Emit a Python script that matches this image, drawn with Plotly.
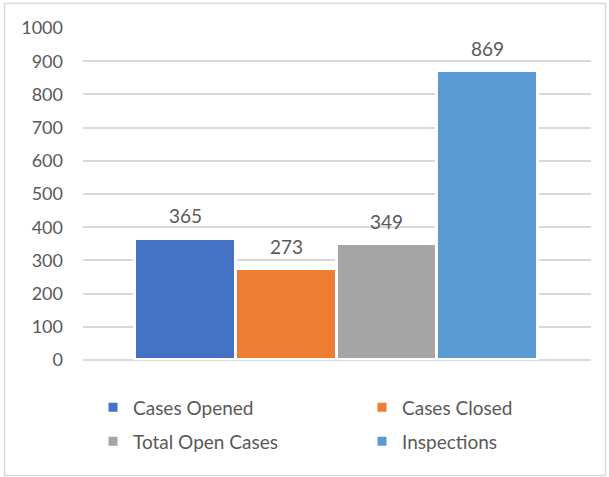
import plotly.graph_objects as go

series_names = ["Cases Opened", "Cases Closed", "Total Open Cases", "Inspections"]
series_values = [365, 273, 349, 869]
series_colors = ["#4472C4", "#ED7D31", "#A5A5A5", "#5B9BD5"]
y_ticks = [0, 100, 200, 300, 400, 500, 600, 700, 800, 900, 1000]

W, H = 609, 477
L, R, T, B = 83, 18, 28, 117
pw, ph = W - L - R, H - T - B

def px_x(p):
    return (p - L) / pw

def px_y(p):
    return (H - B - p) / ph

FONT = "Lato"
GREY_TEXT = "#595959"

# legend placement (pixel left of legend box, pixel centre of row)
legend_ids = ["legend", "legend2", "legend3", "legend4"]
legend_pos = [(93, 407.5), (362, 407.5), (93, 441.5), (362, 441.5)]

fig = go.Figure()
for name, val, col, lg in zip(series_names, series_values, series_colors, legend_ids):
    fig.add_trace(go.Bar(
        x=[name], y=[val], name=name,
        marker=dict(color=col, line=dict(color="white", width=3)),
        legend=lg, hoverinfo="skip",
    ))
    fig.add_annotation(
        x=name, y=val, text=str(val), showarrow=False,
        yanchor="middle", yshift=23,
        font=dict(family=FONT, size=19, color=GREY_TEXT),
    )

legend_layouts = {}
for lg, (lx, ly) in zip(legend_ids, legend_pos):
    legend_layouts[lg] = dict(
        orientation="h", x=px_x(lx), xanchor="left",
        y=px_y(ly), yanchor="middle",
        font=dict(family=FONT, size=19, color=GREY_TEXT),
        bgcolor="rgba(0,0,0,0)", itemclick=False, itemdoubleclick=False,
    )

fig.update_layout(
    width=W, height=H,
    margin=dict(l=L, r=R, t=T, b=B, pad=0, autoexpand=False),
    paper_bgcolor="white", plot_bgcolor="white",
    barmode="overlay", bargap=0,
    showlegend=True,
    font=dict(family=FONT, color=GREY_TEXT, size=18),
    xaxis=dict(
        range=[-1.01, 4.02], showticklabels=False, showgrid=False,
        zeroline=False, showline=False, ticks="",
        categoryorder="array", categoryarray=series_names,
    ),
    yaxis=dict(
        range=[0, 1000], tickvals=y_ticks, ticktext=[str(v) for v in y_ticks],
        showgrid=True, gridcolor="#D9D9D9", gridwidth=1.5,
        zeroline=True, zerolinecolor="#D9D9D9", zerolinewidth=1.5,
        showline=False, ticks="", ticklabelstandoff=19,
        tickfont=dict(family=FONT, size=18, color=GREY_TEXT),
    ),
    shapes=[dict(
        type="rect", xref="paper", yref="paper",
        x0=px_x(4.5), x1=px_x(605.5), y0=px_y(475.5), y1=px_y(3.5),
        line=dict(color="#D9D9D9", width=1.5), fillcolor="rgba(0,0,0,0)",
        layer="below",
    )],
    **legend_layouts,
)

fig.write_html(
    "out.html",
    config={"displayModeBar": False},
    post_script="document.body.style.margin='0';document.body.style.padding='0';",
)
